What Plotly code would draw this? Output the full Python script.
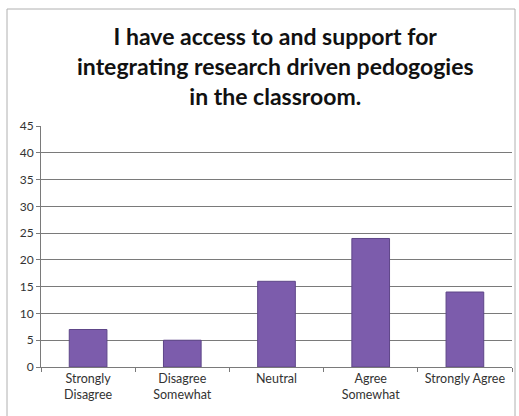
import plotly.graph_objects as go

categories = ["Strongly<br>Disagree", "Disagree<br>Somewhat", "Neutral", "Agree<br>Somewhat", "Strongly Agree"]
values = [7, 5, 16, 24, 14]
y_ticks = [0, 5, 10, 15, 20, 25, 30, 35, 40, 45]
title_text = "I have access to and support for<br>integrating research driven pedogogies<br>in the classroom."

W, H = 519, 416
L, R, T, B = 41, 7, 126, 49
pw = W - L - R
ph = H - T - B

def px_to_paper_x(px):
    return (px - L) / pw

def px_to_paper_y(py):
    return (H - B - py) / ph

fig = go.Figure(go.Bar(
    x=categories, y=values,
    marker=dict(color="#7c5cac", line=dict(color="#5e4688", width=1)),
    width=0.4,
))

fig.update_layout(
    width=W, height=H,
    margin=dict(l=L, r=R, t=T, b=B),
    paper_bgcolor="white", plot_bgcolor="white",
    showlegend=False,
    font=dict(family="Lato, sans-serif", size=12, color="#333333"),
    shapes=[dict(
        type="rect", xref="paper", yref="paper",
        x0=px_to_paper_x(7), x1=px_to_paper_x(515),
        y0=px_to_paper_y(430), y1=px_to_paper_y(9),
        line=dict(color="#b0b0b0", width=1), fillcolor="rgba(0,0,0,0)", layer="below",
    )],
    annotations=[dict(
        text="<b>" + title_text.replace("<br>", "</b><br><b>") + "</b>",
        xref="paper", yref="paper",
        x=px_to_paper_x(275), y=px_to_paper_y(66),
        xanchor="center", yanchor="middle", showarrow=False,
        font=dict(family="Lato, sans-serif", size=23, color="#111111"),
        align="center",
    )],
)

fig.update_yaxes(
    range=[0, 45], tickvals=y_ticks, showgrid=True, gridcolor="#7a7a7a", gridwidth=1,
    showline=True, linecolor="#7a7a7a", linewidth=1, ticks="outside", ticklen=4,
    tickcolor="#7a7a7a", zeroline=False, tickfont=dict(size=12, color="#333333"),
)
fig.update_xaxes(
    showline=True, linecolor="#7a7a7a", linewidth=1, ticks="outside", ticklen=4,
    tickcolor="#7a7a7a", tickson="boundaries", tickfont=dict(size=12.5, color="#333333"),
)

fig.write_html("out.html")
